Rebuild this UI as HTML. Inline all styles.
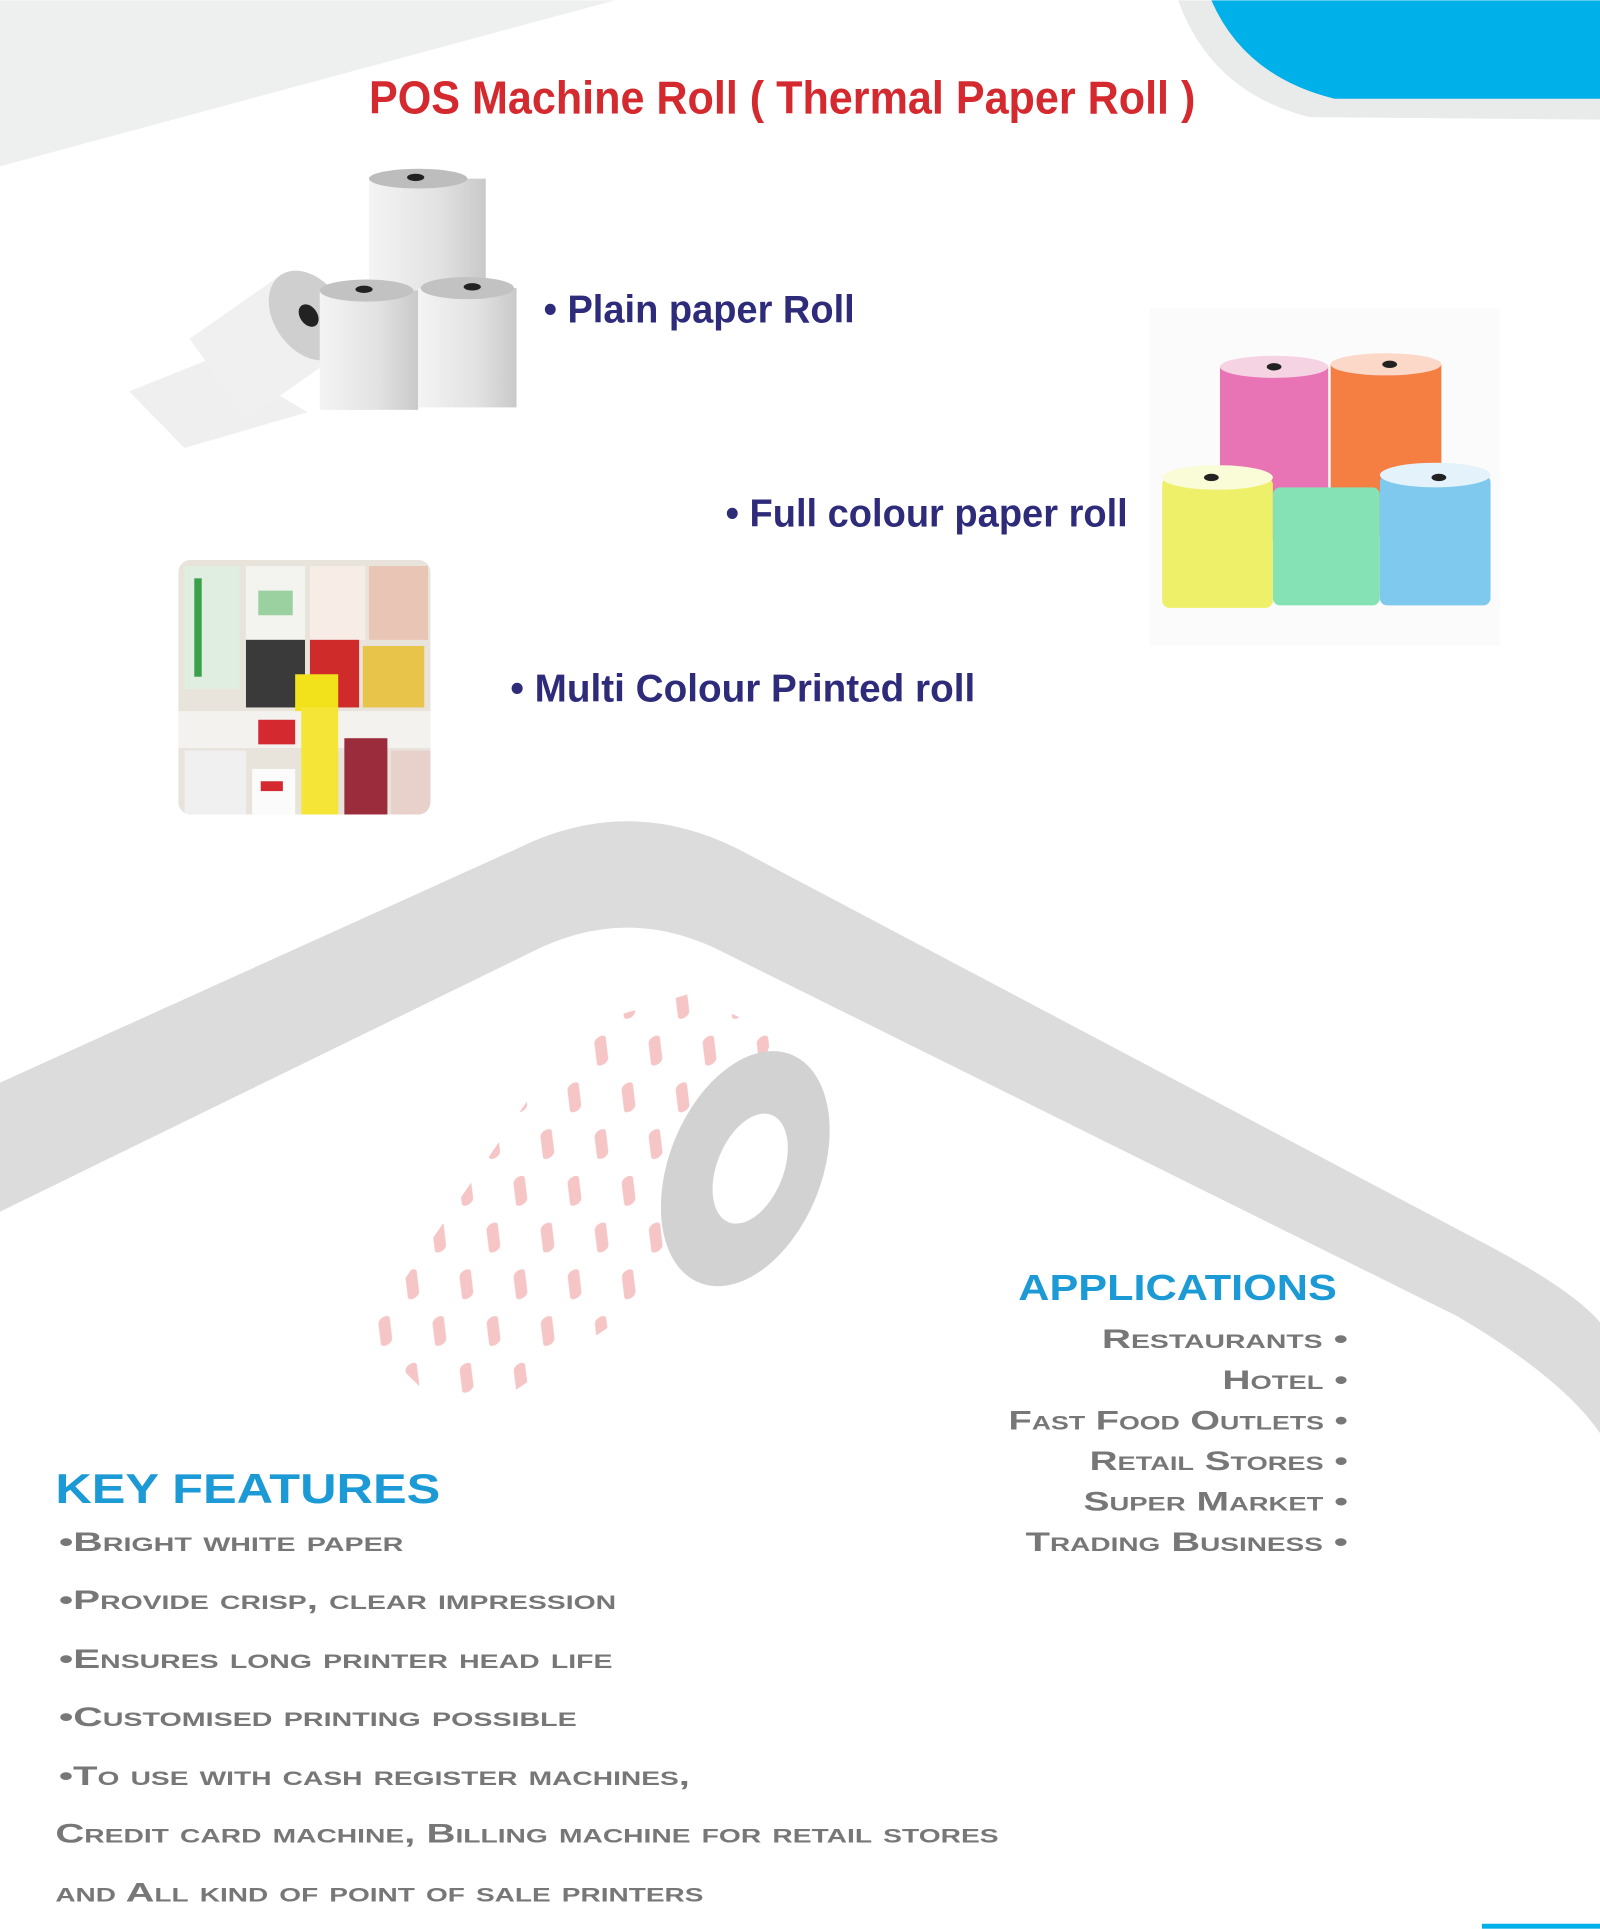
<!DOCTYPE html>
<html><head><meta charset="utf-8"><style>
html,body{margin:0;padding:0;background:#fff;}
svg{display:block;}
.sc{font-family:"Liberation Sans",sans-serif;font-variant:small-caps;font-weight:bold;fill:#777;font-size:22px;}
.nv{font-family:"Liberation Sans Narrow","Liberation Sans",sans-serif;font-weight:bold;fill:#2e2b7b;font-size:32px;}
.bl{font-family:"Liberation Sans",sans-serif;font-weight:bold;fill:#1c9ad6;}
</style></head><body>
<svg width="1600" height="1929" viewBox="0 0 1301 1568" xmlns="http://www.w3.org/2000/svg">
<defs>
<linearGradient id="wg" x1="0" x2="1" y1="0" y2="0"><stop offset="0" stop-color="#f4f4f4"/><stop offset="0.6" stop-color="#e2e2e2"/><stop offset="1" stop-color="#c9c9c9"/></linearGradient>
<pattern id="cap" width="44" height="38" patternUnits="userSpaceOnUse" patternTransform="skewX(-30)">
<rect x="10" y="4" width="8" height="28" rx="4" fill="#f3b3b3" transform="rotate(-35 14 18)"/>
</pattern>
<clipPath id="rc"><rect x="145" y="455" width="205" height="207" rx="10"/></clipPath>
</defs>
<path d="M0,0 L500,0 L0,135 Z" fill="#eeefef"/>
<path d="M958,0 Q985,75 1065,95 L1301,97 L1301,0 Z" fill="#e9eaea"/>
<path d="M985,0 Q1012,62 1085,80 L1301,80 L1301,0 Z" fill="#00b0e8"/>
<path d="M0,880 L420,690 Q510,645 600,690 L1215,1015 Q1280,1050 1301,1075 L1301,1165 Q1270,1120 1185,1070 L590,775 Q510,733 430,775 L0,985 Z" fill="#dcdcdc"/>
<polygon points="298,1085 375,1160 545,1045 630,840 560,808 470,835" fill="url(#cap)" opacity="0.75"/>
<ellipse cx="606" cy="950" rx="62" ry="100" transform="rotate(22 606 950)" fill="#d2d2d2"/>
<ellipse cx="610" cy="950" rx="27" ry="47" transform="rotate(22 610 950)" fill="#fff"/>
<text x="300" y="92" textLength="672" lengthAdjust="spacingAndGlyphs" font-family="'Liberation Sans Narrow','Liberation Sans',sans-serif" font-weight="bold" font-size="38" fill="#d42a2f">POS Machine Roll ( Thermal Paper Roll )</text>
<polygon points="105,318 175,290 250,335 150,364" fill="#efefef"/>
<g transform="rotate(-35 210 285)">
<rect x="170" y="245" width="90" height="80" fill="#f0f0f0"/>
<ellipse cx="260" cy="285" rx="28" ry="40" fill="#cfcfcf"/>
<ellipse cx="260" cy="285" rx="7" ry="10" fill="#222"/>
</g>
<rect x="300" y="145" width="95" height="95" fill="url(#wg)"/>
<ellipse cx="340" cy="145" rx="40" ry="8" fill="#bdbdbd"/><ellipse cx="338" cy="144" rx="7" ry="3" fill="#222"/>
<rect x="260" y="236" width="80" height="97" fill="url(#wg)"/>
<ellipse cx="298" cy="236" rx="38" ry="9" fill="#c2c2c2"/><ellipse cx="296" cy="235" rx="7" ry="3" fill="#222"/>
<rect x="340" y="234" width="80" height="97" fill="url(#wg)"/>
<ellipse cx="380" cy="234" rx="38" ry="9" fill="#c2c2c2"/><ellipse cx="384" cy="233" rx="7" ry="3" fill="#222"/>
<text x="442" y="262" textLength="253" lengthAdjust="spacingAndGlyphs" class="nv">• Plain paper Roll</text>
<rect x="935" y="250" width="285" height="275" fill="#fbfbfb"/>
<rect x="992" y="298" width="88" height="140" fill="#e874b6"/><ellipse cx="1036" cy="298" rx="44" ry="9" fill="#f5d3e3"/><ellipse cx="1036" cy="298" rx="6" ry="3" fill="#222"/>
<rect x="1082" y="296" width="90" height="140" fill="#f57e43"/><ellipse cx="1127" cy="296" rx="45" ry="9" fill="#fbd8c8"/><ellipse cx="1130" cy="296" rx="6" ry="3" fill="#222"/>
<rect x="945" y="388" width="90" height="106" rx="6" fill="#eff06a"/><ellipse cx="990" cy="388" rx="45" ry="10" fill="#fafbd7"/><ellipse cx="985" cy="388" rx="6" ry="3" fill="#222"/>
<rect x="1035" y="396" width="87" height="96" rx="6" fill="#85e2b5"/>
<rect x="1122" y="386" width="90" height="106" rx="6" fill="#7fc8ee"/><ellipse cx="1167" cy="386" rx="45" ry="10" fill="#e3f2fb"/><ellipse cx="1170" cy="388" rx="6" ry="3" fill="#222"/>
<text x="590" y="428" textLength="327" lengthAdjust="spacingAndGlyphs" class="nv">• Full colour paper roll</text>
<g clip-path="url(#rc)">
<rect x="145" y="455" width="205" height="207" fill="#e8e4dc"/>
<rect x="150" y="460" width="45" height="100" fill="#dfeee0"/><rect x="158" y="470" width="6" height="80" fill="#3aa04a"/>
<rect x="200" y="460" width="48" height="60" fill="#f3f3ef"/><rect x="210" y="480" width="28" height="20" fill="#9bd0a0"/>
<rect x="252" y="460" width="45" height="60" fill="#f7ede6"/>
<rect x="300" y="460" width="48" height="60" fill="#e8c5b5"/>
<rect x="200" y="520" width="48" height="55" fill="#3a3a3a"/>
<rect x="252" y="520" width="40" height="55" fill="#cf2b2b"/>
<rect x="295" y="525" width="50" height="50" fill="#e9c44a"/>
<rect x="240" y="548" width="35" height="30" fill="#f2e21c"/>
<rect x="145" y="578" width="205" height="30" fill="#f4f2ef"/>
<rect x="210" y="585" width="30" height="20" fill="#d42a2f"/>
<rect x="245" y="575" width="30" height="87" fill="#f4e536"/>
<rect x="280" y="600" width="35" height="62" fill="#9a2c3b"/>
<rect x="150" y="610" width="50" height="52" fill="#f0f0f0"/>
<rect x="205" y="625" width="35" height="37" fill="#fbfbfb"/><rect x="212" y="635" width="18" height="8" fill="#d42a2f"/>
<rect x="318" y="610" width="32" height="52" fill="#e9d1cb"/>
</g>
<text x="415" y="570" textLength="378" lengthAdjust="spacingAndGlyphs" class="nv">• Multi Colour Printed roll</text>
<text x="828" y="1057" textLength="259" lengthAdjust="spacingAndGlyphs" class="bl" font-size="29">APPLICATIONS</text>
<g class="sc" text-anchor="end">
<text x="1096" y="1096" textLength="200" lengthAdjust="spacingAndGlyphs">Restaurants •</text>
<text x="1096" y="1129" textLength="102" lengthAdjust="spacingAndGlyphs">Hotel •</text>
<text x="1096" y="1162" textLength="276" lengthAdjust="spacingAndGlyphs">Fast Food Outlets •</text>
<text x="1096" y="1195" textLength="210" lengthAdjust="spacingAndGlyphs">Retail Stores •</text>
<text x="1096" y="1228" textLength="215" lengthAdjust="spacingAndGlyphs">Super Market •</text>
<text x="1096" y="1261" textLength="262" lengthAdjust="spacingAndGlyphs">Trading Business •</text>
</g>
<text x="45" y="1222" textLength="313" lengthAdjust="spacingAndGlyphs" class="bl" font-size="34">KEY FEATURES</text>
<g class="sc">
<text x="48" y="1261" textLength="280" lengthAdjust="spacingAndGlyphs">•Bright white paper</text>
<text x="48" y="1308" textLength="453" lengthAdjust="spacingAndGlyphs">•Provide crisp, clear impression</text>
<text x="48" y="1356" textLength="450" lengthAdjust="spacingAndGlyphs">•Ensures long printer head life</text>
<text x="48" y="1403" textLength="421" lengthAdjust="spacingAndGlyphs">•Customised printing possible</text>
<text x="48" y="1451" textLength="513" lengthAdjust="spacingAndGlyphs">•To use with cash register machines,</text>
<text x="45" y="1498" textLength="767" lengthAdjust="spacingAndGlyphs">Credit card machine, Billing machine for retail stores</text>
<text x="45" y="1546" textLength="527" lengthAdjust="spacingAndGlyphs">and All kind of point of sale printers</text>
</g>
<rect x="1205" y="1564" width="96" height="4" fill="#00b0e8"/>
</svg>
</body></html>
